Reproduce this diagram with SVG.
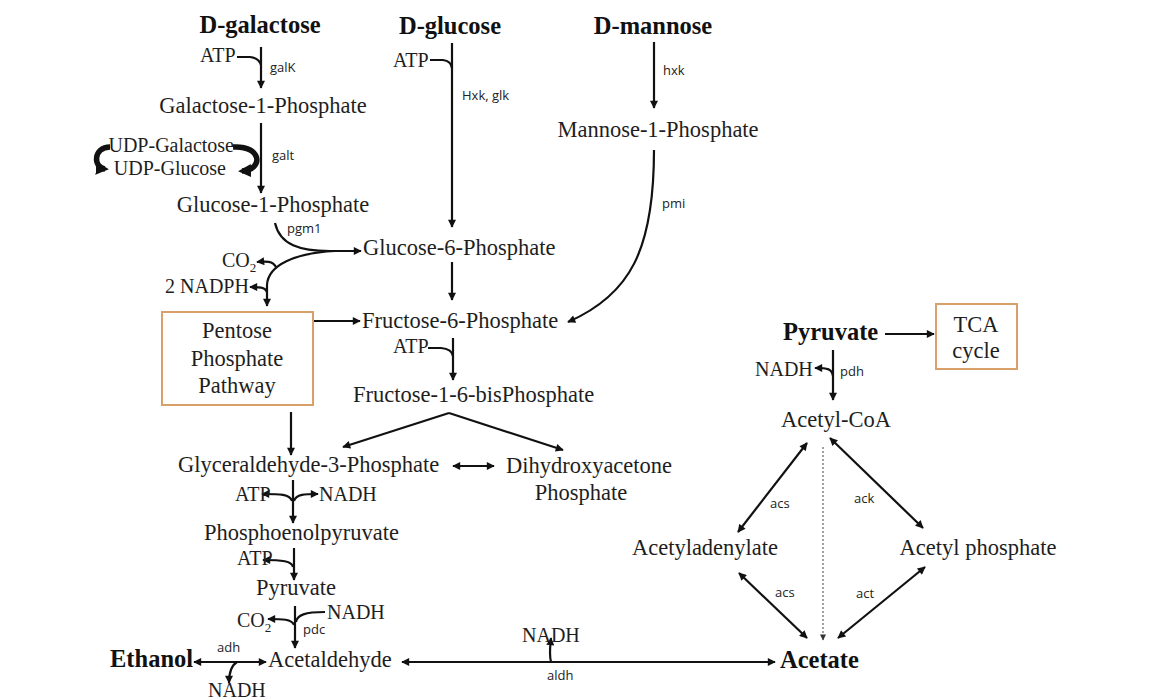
<svg xmlns="http://www.w3.org/2000/svg" width="1159" height="700" viewBox="0 0 1159 700">
<style>
.t{font-family:"Liberation Serif",serif;font-size:22.5px;fill:#1e1e1e}
.b{font-family:"Liberation Serif",serif;font-size:24.5px;font-weight:bold;fill:#111}
.c{font-family:"Liberation Serif",serif;font-size:20px;fill:#1e1e1e}
.e{font-family:"Open Sans","Liberation Sans",sans-serif;font-size:13px;fill:#222}
.m{text-anchor:middle}
.ln{fill:none;stroke:#111;stroke-width:2.2}
.a{marker-end:url(#ah)}
.d{marker-start:url(#ah);marker-end:url(#ah)}
.box{fill:#fff;stroke:#d9a06a;stroke-width:2}
</style>
<defs>
<marker id="ah" viewBox="0 0 10 10" refX="9" refY="5" markerWidth="10" markerHeight="8" markerUnits="userSpaceOnUse" orient="auto-start-reverse"><path d="M0,0 L10,5 L0,10 z" fill="#111"/></marker>
<marker id="ahs" viewBox="0 0 10 10" refX="9" refY="5" markerWidth="7" markerHeight="6" markerUnits="userSpaceOnUse" orient="auto"><path d="M0,0 L10,5 L0,10 z" fill="#333"/></marker>
<marker id="ahb" viewBox="0 0 10 10" refX="7" refY="5" markerWidth="13" markerHeight="13" markerUnits="userSpaceOnUse" orient="auto"><path d="M0,0 L10,5 L0,10 z" fill="#111"/></marker>
</defs>
<rect width="1159" height="700" fill="#fff"/>
<g id="connectors">
<path class="ln a" d="M261,47 L261,88"/>
<path class="ln" d="M237,57 L250,57 Q259,58 261,65"/>
<path class="ln a" d="M261,123 L261,193"/>
<path fill="none" stroke="#111" stroke-width="5.5" marker-end="url(#ahb)" d="M233,147 C262,145 264,170 242,171"/>
<path fill="none" stroke="#111" stroke-width="5.5" marker-end="url(#ahb)" d="M110,147 C93,147 93,168 105,169"/>
<path class="ln a" d="M275,223 C280,245 300,251 330,251 L361,251"/>
<path class="ln a" d="M335,251 C295,253 268,265 267,285 L267,306"/>
<path class="ln a" d="M276,267 C273,261 266,261 257,262"/>
<path class="ln a" d="M267,292 C265,287 259,287 250,287"/>
<path class="ln a" d="M452,43 L452,227"/>
<path class="ln" d="M430,60 L443,60 Q451,61 452,68"/>
<path class="ln a" d="M452,262 L452,300"/>
<path class="ln a" d="M313,321 L360,321"/>
<path class="ln a" d="M654,42 L654,108"/>
<path class="ln a" d="M654,150 C654,250 630,295 568,322"/>
<path class="ln a" d="M453,338 L453,380"/>
<path class="ln" d="M428,348 L441,348 Q452,349 453,356"/>
<path class="ln a" d="M449,413 L343,447"/>
<path class="ln a" d="M449,413 L563,450"/>
<path class="ln a" d="M291,412 L291,455"/>
<path class="ln d" d="M453,466 L494,466"/>
<path class="ln a" d="M293,480 L293,523"/>
<path class="ln a" d="M292,501 C290,494 280,494 262,494"/>
<path class="ln a" d="M294,501 C296,494 305,494 318,494"/>
<path class="ln a" d="M294,548 L294,580"/>
<path class="ln a" d="M293,567 C292,561 282,560 263,560"/>
<path class="ln a" d="M295,606 L295,648"/>
<path class="ln" d="M325,612 C305,612 297,615 296,622"/>
<path class="ln a" d="M294,625 C292,619 282,619 268,619"/>
<path class="ln d" d="M194,662 L266,662"/>
<path class="ln a" d="M237,662 C232,665 229,670 229,683"/>
<path class="ln d" d="M402,662 L775,662"/>
<path class="ln a" d="M551,662 C549,655 550,648 551,638"/>
<path class="ln a" d="M885,334 L934,334"/>
<path class="ln a" d="M833,350 L833,400"/>
<path class="ln a" d="M833,376 C832,369 828,368 815,368"/>
<path class="ln d" d="M807,443 L738,532"/>
<path class="ln d" d="M830,438 L923,528"/>
<path class="ln d" d="M739,573 L807,638"/>
<path class="ln d" d="M925,567 L838,638"/>
<path fill="none" stroke="#444" stroke-width="1" stroke-dasharray="2,2" marker-end="url(#ahs)" d="M823,447 L823,640"/>
</g>
<g id="n-dgal"><text class="b m" x="260" y="33">D-galactose</text></g>
<g id="n-dglc"><text class="b m" x="450" y="34">D-glucose</text></g>
<g id="n-dman"><text class="b m" x="653" y="34">D-mannose</text></g>
<g id="n-gal1p"><text class="t m" x="263" y="113">Galactose-1-Phosphate</text></g>
<g id="n-udpgal"><text class="c" x="234" y="152" text-anchor="end">UDP-Galactose</text></g>
<g id="n-udpglc"><text class="c" x="226" y="175" text-anchor="end">UDP-Glucose</text></g>
<g id="n-glc1p"><text class="t m" x="273" y="212">Glucose-1-Phosphate</text></g>
<g id="n-glc6p"><text class="t" x="363" y="255">Glucose-6-Phosphate</text></g>
<g id="n-man1p"><text class="t m" x="658" y="137">Mannose-1-Phosphate</text></g>
<g id="n-f6p"><text class="t" x="362" y="328">Fructose-6-Phosphate</text></g>
<g id="n-ppp"><rect class="box" x="162" y="312" width="151" height="93"/><text class="t m" x="237" y="338">Pentose</text><text class="t m" x="237" y="366">Phosphate</text><text class="t m" x="237" y="393">Pathway</text></g>
<g id="n-f16bp"><text class="t" x="353" y="402">Fructose-1-6-bisPhosphate</text></g>
<g id="n-gap"><text class="t" x="178" y="472">Glyceraldehyde-3-Phosphate</text></g>
<g id="n-dhap"><text class="t m" x="589" y="473">Dihydroxyacetone</text><text class="t m" x="581" y="500">Phosphate</text></g>
<g id="n-pep"><text class="t" x="204" y="540">Phosphoenolpyruvate</text></g>
<g id="n-pyr"><text class="t m" x="296" y="595">Pyruvate</text></g>
<g id="n-acald"><text class="t" x="268" y="667">Acetaldehyde</text></g>
<g id="n-ethanol"><text class="b" x="110" y="667">Ethanol</text></g>
<g id="n-acetate"><text class="b" x="780" y="668">Acetate</text></g>
<g id="n-pyr2"><text class="b" x="783" y="340">Pyruvate</text></g>
<g id="n-tca"><rect class="box" x="936" y="304" width="81" height="65"/><text class="t m" x="976" y="332">TCA</text><text class="t m" x="976" y="358">cycle</text></g>
<g id="n-accoa"><text class="t m" x="836" y="427">Acetyl-CoA</text></g>
<g id="n-acad"><text class="t m" x="705" y="555">Acetyladenylate</text></g>
<g id="n-acp"><text class="t m" x="978" y="555">Acetyl phosphate</text></g>
<g id="cofactors">
<text class="c" x="200" y="62">ATP</text>
<text class="c" x="393" y="67">ATP</text>
<text class="c" x="222" y="267">CO<tspan font-size="13" dy="5">2</tspan></text>
<text class="c" x="165" y="293">2 NADPH</text>
<text class="c" x="393" y="353">ATP</text>
<text class="c" x="235" y="501">ATP</text>
<text class="c" x="319" y="501">NADH</text>
<text class="c" x="237" y="565">ATP</text>
<text class="c" x="327" y="619">NADH</text>
<text class="c" x="237" y="627">CO<tspan font-size="13" dy="5">2</tspan></text>
<text class="c" x="208" y="697">NADH</text>
<text class="c" x="522" y="642">NADH</text>
<text class="c" x="755" y="376">NADH</text>
</g>
<g id="enzymes">
<text class="e" x="270" y="72">galK</text>
<text class="e" x="272" y="160">galt</text>
<text class="e" x="287" y="233">pgm1</text>
<text class="e" x="462" y="100">Hxk, glk</text>
<text class="e" x="663" y="75">hxk</text>
<text class="e" x="662" y="208">pmi</text>
<text class="e" x="303" y="634">pdc</text>
<text class="e" x="217" y="652">adh</text>
<text class="e" x="547" y="680">aldh</text>
<text class="e" x="840" y="376">pdh</text>
<text class="e" x="770" y="508">acs</text>
<text class="e" x="854" y="503">ack</text>
<text class="e" x="775" y="597">acs</text>
<text class="e" x="856" y="598">act</text>
</g>
</svg>
